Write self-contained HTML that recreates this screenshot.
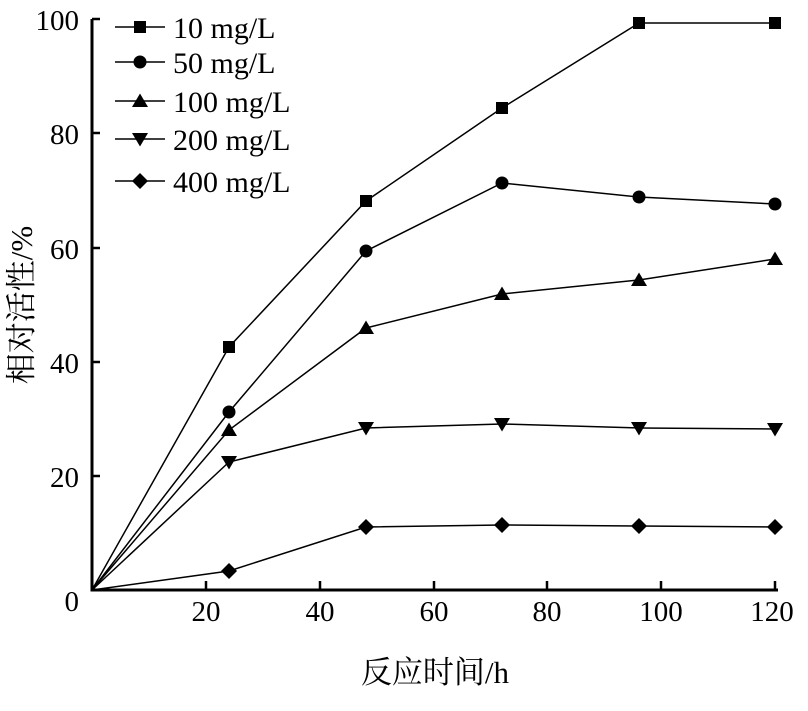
<!DOCTYPE html>
<html><head><meta charset="utf-8"><style>body{margin:0;background:#fff}</style></head><body>
<svg width="808" height="706" xmlns="http://www.w3.org/2000/svg" font-family="Liberation Serif, Noto Serif CJK SC, serif" font-size="29" fill="#000">
<defs>
<rect id="sq" x="-6" y="-6" width="12" height="12"/>
<circle id="ci" r="6.5"/>
<polygon id="tu" points="0,-7.5 8,6 -8,6"/>
<polygon id="td" points="0,7.5 8,-6 -8,-6"/>
<polygon id="di" points="0,-8 8,0 0,8 -8,0"/>
</defs>
<g stroke="#000" stroke-width="3" fill="none">
<polyline points="92,19 92,590 778,590"/>
</g>
<g stroke="#000" stroke-width="2.5">
<line x1="92" y1="19" x2="100" y2="19"/><line x1="92" y1="133" x2="100" y2="133"/><line x1="92" y1="248" x2="100" y2="248"/><line x1="92" y1="362" x2="100" y2="362"/><line x1="92" y1="476" x2="100" y2="476"/>
<line x1="206" y1="590" x2="206" y2="581"/><line x1="320" y1="590" x2="320" y2="581"/><line x1="434" y1="590" x2="434" y2="581"/><line x1="547" y1="590" x2="547" y2="581"/><line x1="661" y1="590" x2="661" y2="581"/><line x1="775" y1="590" x2="775" y2="581"/>
</g>
<g text-anchor="end">
<text x="79" y="30">100</text><text x="79" y="144">80</text><text x="79" y="259">60</text><text x="79" y="373">40</text><text x="79" y="487">20</text><text x="79" y="611">0</text>
</g>
<g text-anchor="middle">
<text x="206" y="621">20</text><text x="320" y="621">40</text><text x="434" y="621">60</text><text x="547" y="621">80</text><text x="661" y="621">100</text><text x="772" y="621">120</text>
<text x="435" y="683" font-size="31">反应时间/h</text>
<text transform="translate(32,305) rotate(-90)" font-size="31">相对活性/%</text>
</g>
<g stroke="#000" stroke-width="1.5" fill="none">
<polyline points="92,590 229,347 366,201 502,108 639,23 775,23"/>
<polyline points="92,590 229,412 366,251 502,183 639,197 775,204"/>
<polyline points="92,590 229,430 366,328 502,294 639,280 775,259"/>
<polyline points="92,590 229,462 366,428 502,424 639,428 775,429"/>
<polyline points="92,590 229,571 366,527 502,525 639,526 775,527"/>
<line x1="115" y1="27" x2="165" y2="27"/><line x1="115" y1="62" x2="165" y2="62"/><line x1="115" y1="101" x2="165" y2="101"/><line x1="115" y1="139" x2="165" y2="139"/><line x1="115" y1="181" x2="165" y2="181"/>
</g>
<use href="#sq" x="229" y="347"/><use href="#sq" x="366" y="201"/><use href="#sq" x="502" y="108"/><use href="#sq" x="639" y="23"/><use href="#sq" x="775" y="23"/>
<use href="#ci" x="229" y="412"/><use href="#ci" x="366" y="251"/><use href="#ci" x="502" y="183"/><use href="#ci" x="639" y="197"/><use href="#ci" x="775" y="204"/>
<use href="#tu" x="229" y="430"/><use href="#tu" x="366" y="328"/><use href="#tu" x="502" y="294"/><use href="#tu" x="639" y="280"/><use href="#tu" x="775" y="259"/>
<use href="#td" x="229" y="462"/><use href="#td" x="366" y="428"/><use href="#td" x="502" y="424"/><use href="#td" x="639" y="428"/><use href="#td" x="775" y="429"/>
<use href="#di" x="229" y="571"/><use href="#di" x="366" y="527"/><use href="#di" x="502" y="525"/><use href="#di" x="639" y="526"/><use href="#di" x="775" y="527"/>
<use href="#sq" x="140" y="27"/><use href="#ci" x="140" y="62"/><use href="#tu" x="140" y="101"/><use href="#td" x="140" y="139"/><use href="#di" x="140" y="181"/>
<g font-size="30">
<text x="173" y="38">10 mg/L</text><text x="173" y="73">50 mg/L</text><text x="173" y="112">100 mg/L</text><text x="173" y="150">200 mg/L</text><text x="173" y="192">400 mg/L</text>
</g>
</svg>
</body></html>
